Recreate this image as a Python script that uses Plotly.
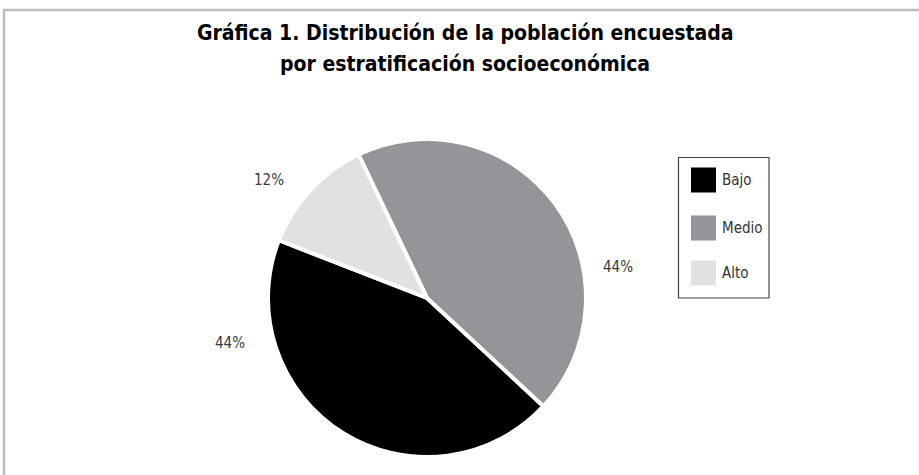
import plotly.graph_objects as go

W, H = 919, 475

categories = ["Bajo", "Medio", "Alto"]
values = [44, 44, 12]
colors = ["#000000", "#939598", "#e0e1e3"]

title_lines = ["Gráfica 1. Distribución de la población encuestada",
               "por estratificación socioeconómica"]

# label placement (pixels), not data
label_pos = [(230, 343), (618, 267), (269, 180)]
legend_rows_y = [180, 228, 273]
title_rows_y = [33, 64]

def px(x):
    return x / W

def py(y):
    return 1 - y / H

FONT = "DejaVu Sans Condensed, DejaVu Sans, sans-serif"

cx, cy, r = 427, 298, 159

fig = go.Figure(
    go.Pie(
        labels=categories,
        values=values,
        marker=dict(colors=colors, line=dict(color="white", width=4)),
        sort=False,
        direction="counterclockwise",
        rotation=132.9,
        textinfo="none",
        hoverinfo="label+percent",
        showlegend=False,
        domain=dict(x=[px(cx - r), px(cx + r)], y=[py(cy + r), py(cy - r)]),
    )
)

total = sum(values)
annotations = []
for line, yy in zip(title_lines, title_rows_y):
    annotations.append(dict(
        x=px(465), y=py(yy), xref="paper", yref="paper",
        text=f"<b>{line}</b>", showarrow=False,
        font=dict(family=FONT, size=21, color="#000000"),
        xanchor="center", yanchor="middle",
    ))
for cat, v, (lx, ly) in zip(categories, values, label_pos):
    annotations.append(dict(
        x=px(lx), y=py(ly), xref="paper", yref="paper",
        text=f"{round(100 * v / total)}%", showarrow=False,
        font=dict(family=FONT, size=15, color="#3a3a3a"),
        xanchor="center", yanchor="middle",
    ))

shapes = [
    # outer frame
    dict(type="rect", xref="paper", yref="paper",
         x0=px(4), x1=px(W + 20), y0=py(H + 20), y1=py(10),
         line=dict(color="#bdbdbd", width=2.5), fillcolor="rgba(0,0,0,0)"),
    # legend box
    dict(type="rect", xref="paper", yref="paper",
         x0=px(678.5), x1=px(769), y0=py(298), y1=py(157.5),
         line=dict(color="#444444", width=1.2), fillcolor="white"),
]
for cat, col, yy in zip(categories, colors, legend_rows_y):
    shapes.append(dict(type="rect", xref="paper", yref="paper",
                       x0=px(691), x1=px(716), y0=py(yy + 12.5), y1=py(yy - 12.5),
                       line=dict(width=0), fillcolor=col))
    annotations.append(dict(
        x=px(720), y=py(yy), xref="paper", yref="paper",
        text=cat, showarrow=False,
        font=dict(family=FONT, size=15, color="#333333"),
        xanchor="left", yanchor="middle",
    ))

fig.update_layout(
    width=W, height=H, autosize=False,
    margin=dict(l=0, r=0, t=0, b=0),
    paper_bgcolor="white", plot_bgcolor="white",
    shapes=shapes,
    annotations=annotations,
)

fig.write_html("out.html", config={"displayModeBar": False},
               post_script="document.body.style.margin='0';")
